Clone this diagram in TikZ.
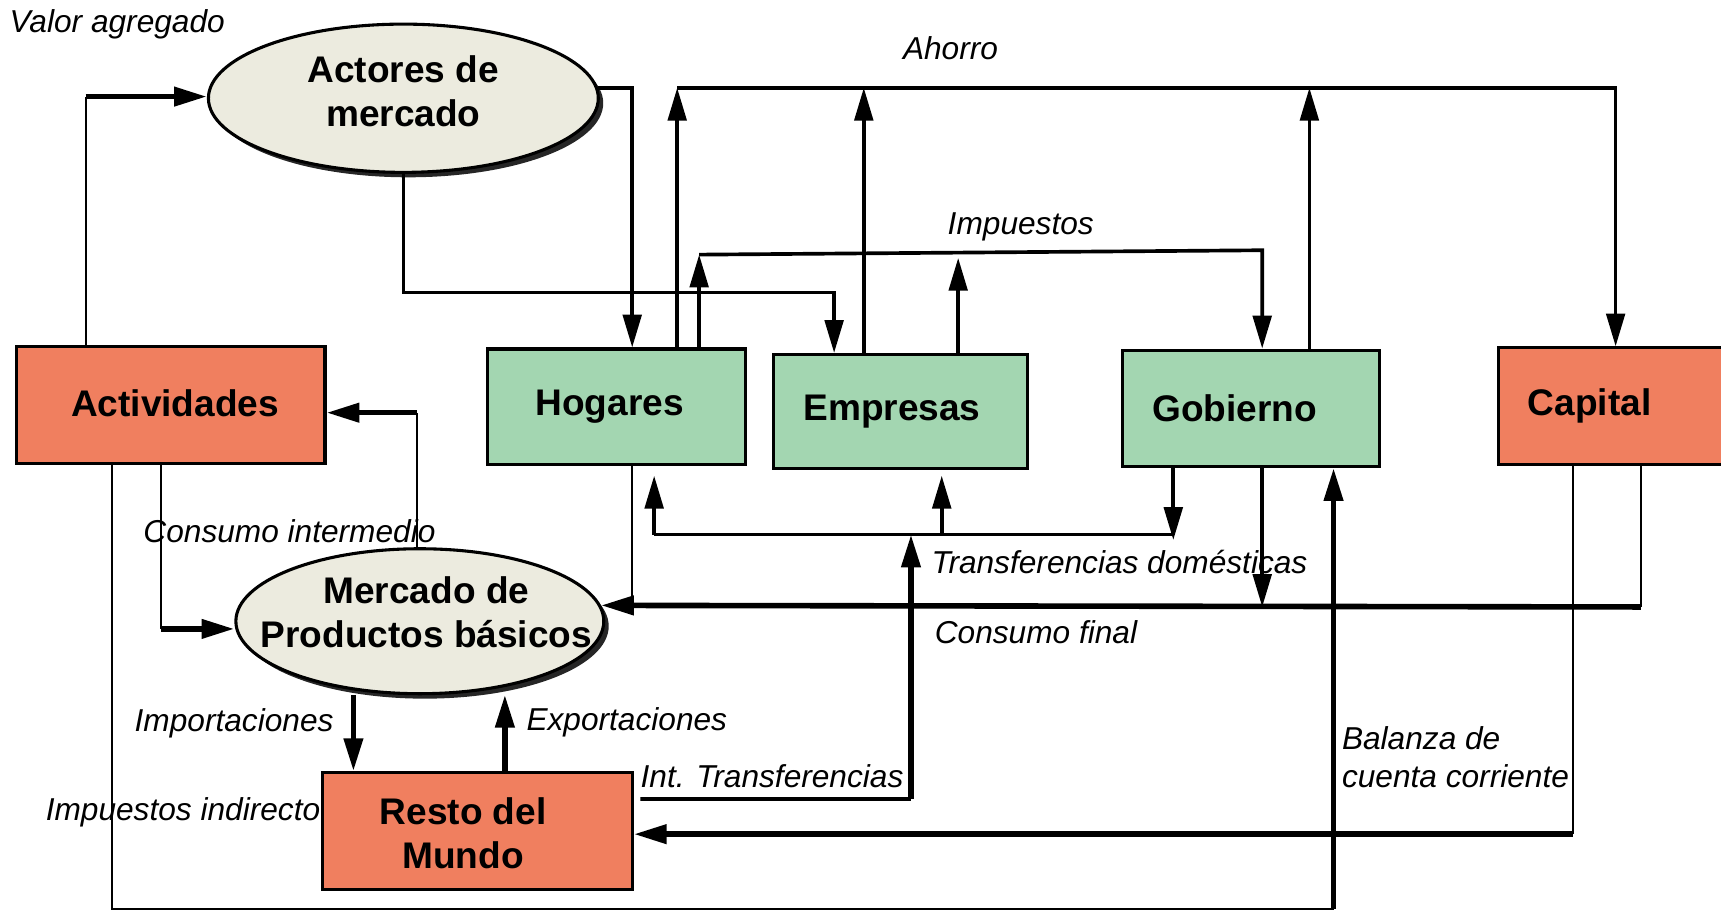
\documentclass[tikz,border=0pt]{standalone}
\usepackage{fontspec}
\setmainfont{Liberation Sans}
\usepackage{tikz}
\usetikzlibrary{arrows.meta,positioning,shapes.geometric,shadows}
\definecolor{salmon}{HTML}{F07F5F}
\definecolor{verde}{HTML}{A3D6B1}
\definecolor{crema}{HTML}{ECEBDF}

\begin{document}
\begin{tikzpicture}[>={Triangle[length=8.5pt,width=4.8pt]},x=0.01cm,y=-0.01cm]
    \tikzstyle{account} = [shape=rectangle, draw=black, line width=0.8pt, inner ysep=0, font=\fontsize{9.6}{11.4}\selectfont\bfseries]
    \tikzstyle{sector} = [account, fill=verde, align=left, inner xsep=0.27cm]
    \tikzstyle{market} = [shape=ellipse, draw=black, line width=0.8pt, fill=crema, inner sep=0, drop shadow={shadow xshift=0.045cm, shadow yshift=-0.045cm, fill=black!85, opacity=1}]
    \tikzstyle{boldtext} = [font=\fontsize{9.6}{11.4}\selectfont\bfseries, align=center, inner sep=0]
    \tikzstyle{flowlabel} = [font=\fontsize{8.2}{9.9}\selectfont\itshape, inner sep=0, align=left]
    \tikzstyle{thinlink} = [black, line width=0.55pt]
    \tikzstyle{link} = [black, line width=0.95pt]
    \tikzstyle{heavylink} = [black, line width=1.45pt]

    \useasboundingbox (0,0) rectangle (1568,830);

    % cuentas
    \node[account, fill=salmon, minimum width=2.81cm, minimum height=1.06cm] (activ) at (155.5,369) {};
    \node[boldtext] (activtxt) at ([xshift=0.04cm,yshift=0.02cm]activ.center) {Actividades};
    \node[sector, text width=1.47cm, inner xsep=0.44cm, minimum height=1.05cm] (hogares) at (561.5,370.5) {Hogares};
    \node[sector, text width=1.77cm, minimum height=1.04cm] (empresas) at (820.5,375) {Empresas};
    \node[sector, text width=1.80cm, minimum height=1.06cm] (gobierno) at (1140,372) {Gobierno};
    \node[account, fill=salmon, align=left, inner xsep=0.27cm, text width=1.81cm, minimum height=1.06cm] (capital) at (1482.5,370) {Capital};
    \node[account, fill=salmon, minimum width=2.82cm, minimum height=1.06cm] (resto) at (435,757) {};
    \node[boldtext] (restotxt) at ([xshift=-0.13cm,yshift=-0.02cm]resto.center) {Resto del\\Mundo};

    \node[market, minimum width=3.55cm, minimum height=1.35cm] (actores) at (367.5,89.5) {};
    \node[boldtext] (actorestxt) at ([yshift=0.06cm]actores.center) {Actores de\\mercado};
    \node[market, minimum width=3.35cm, minimum height=1.32cm] (mercado) at (382.5,566) {};
    \node[boldtext] (mercadotxt) at ([xshift=0.06cm,yshift=0.08cm]mercado.center) {Mercado de\\Productos básicos};

    % valor agregado
    \coordinate (va) at (78,88);
    \draw[thinlink] (activ.north -| va) -- (va);
    \draw[heavylink,->] (va) -- (va -| actores.west);
    \draw[link,->] (actores.3) -| ([xshift=0.145cm]hogares.north);
    \draw[link,->] (actores.south) -- ++(0,108) -| ([xshift=-0.605cm]empresas.north);

    % ahorro
    \coordinate (ahL) at (617,80);
    \coordinate (ahE) at (787,80);
    \coordinate (ahG) at (1193,80);
    \coordinate (ahR) at (1472,80);
    \draw[link,->] (ahL) -- (ahR) -- (capital.north -| ahR);
    \draw[link,->] (hogares.north -| ahL) -- (ahL);
    \draw[link,->] (empresas.north -| ahE) -- (ahE);
    \draw[link,->] (gobierno.north -| ahG) -- (ahG);

    % impuestos
    \coordinate (impL) at (637,232);
    \coordinate (impE) at (873,235);
    \coordinate (impR) at (1150,228);
    \draw[link,->] (hogares.north -| impL) -- (impL);
    \draw[link,->] (impL) -- (impR) -- (gobierno.north -| impR);
    \draw[link,->] (empresas.north -| impE) -- (impE);

    % transferencias domesticas
    \coordinate (trL) at (596,487);
    \coordinate (trE) at (858,487);
    \coordinate (trR) at (1069,487);
    \draw[link,->] (gobierno.south -| trR) -- ([yshift=-0.05cm]trR);
    \draw[link] (trR) -- (trL);
    \draw[link,->,shorten >=0.09cm] (trL) -- (hogares.south -| trL);
    \draw[link,->,shorten >=0.05cm] (trE) -- (empresas.south -| trE);

    % int. transferencias
    \coordinate (itR) at (830,728);
    \draw[link] ([shift={(0.06cm,0.29cm)}]resto.east) -- (itR);
    \draw[heavylink,->] (itR) -- (itR |- trL);

    % consumo final
    \coordinate (cfH) at (576,553);
    \coordinate (cfG) at (1150,553);
    \coordinate (cfR) at (1495,553);
    \draw[thinlink] (hogares.south -| cfH) -- (cfH);
    \draw[thinlink] (capital.south -| cfR) -- (cfR);
    \draw[link,->] (gobierno.south -| cfG) -- (cfG);
    \draw[heavylink,->] (cfR) -- (mercado.5);

    % balanza de cuenta corriente
    \coordinate (bal) at (1433,760);
    \draw[thinlink] (capital.south -| bal) -- (bal);
    \draw[heavylink,->] (bal) -- (bal -| resto.east);

    % impuestos indirectos
    \coordinate (iiL) at (102,828);
    \coordinate (iiR) at (1215,828);
    \draw[thinlink] (activ.south -| iiL) -- (iiL) -- (iiR);
    \draw[heavylink,->] (iiR) -- (gobierno.south -| iiR);

    % consumo intermedio
    \coordinate (ci) at (147,573);
    \draw[thinlink] (activ.south -| ci) -- (ci);
    \draw[heavylink,->] (ci) -- (ci -| mercado.west);
    \coordinate (cm) at (380,376);
    \draw[thinlink] (mercado.north -| cm) -- (cm);
    \draw[heavylink,->] (cm) -- (cm -| activ.east);

    % importaciones / exportaciones
    \coordinate (imp) at (322,633);
    \coordinate (exp) at (460,633);
    \draw[heavylink,->] (imp) -- (resto.north -| imp);
    \draw[heavylink,->] (resto.north -| exp) -- (exp);

    % etiquetas
    \node[flowlabel, anchor=west] (lvalor) at (8,22) {Valor agregado};
    \node[flowlabel] (lahorro) at (866,44) {Ahorro};
    \node[flowlabel] (limpuestos) at (930,207) {Impuestos};
    \node[flowlabel, anchor=west] (lconsint) at (130,484) {Consumo intermedio};
    \node[flowlabel, anchor=west] (ltransf) at (848,512) {Transferencias domésticas};
    \node[flowlabel, anchor=west] (lconsfin) at (851,576) {Consumo final};
    \node[flowlabel, anchor=west] (limport) at (122,659) {Importaciones};
    \node[flowlabel, anchor=west] (lexport) at (479,658) {Exportaciones};
    \node[flowlabel, anchor=west] (linttr) at (583,707) {Int. Transferencias};
    \node[flowlabel, anchor=west] (limpind) at (41,740) {Impuestos indirecto};
    \node[flowlabel, anchor=west] (lbalanza) at (1222,690) {Balanza de\\cuenta corriente};
\end{tikzpicture}
\end{document}
